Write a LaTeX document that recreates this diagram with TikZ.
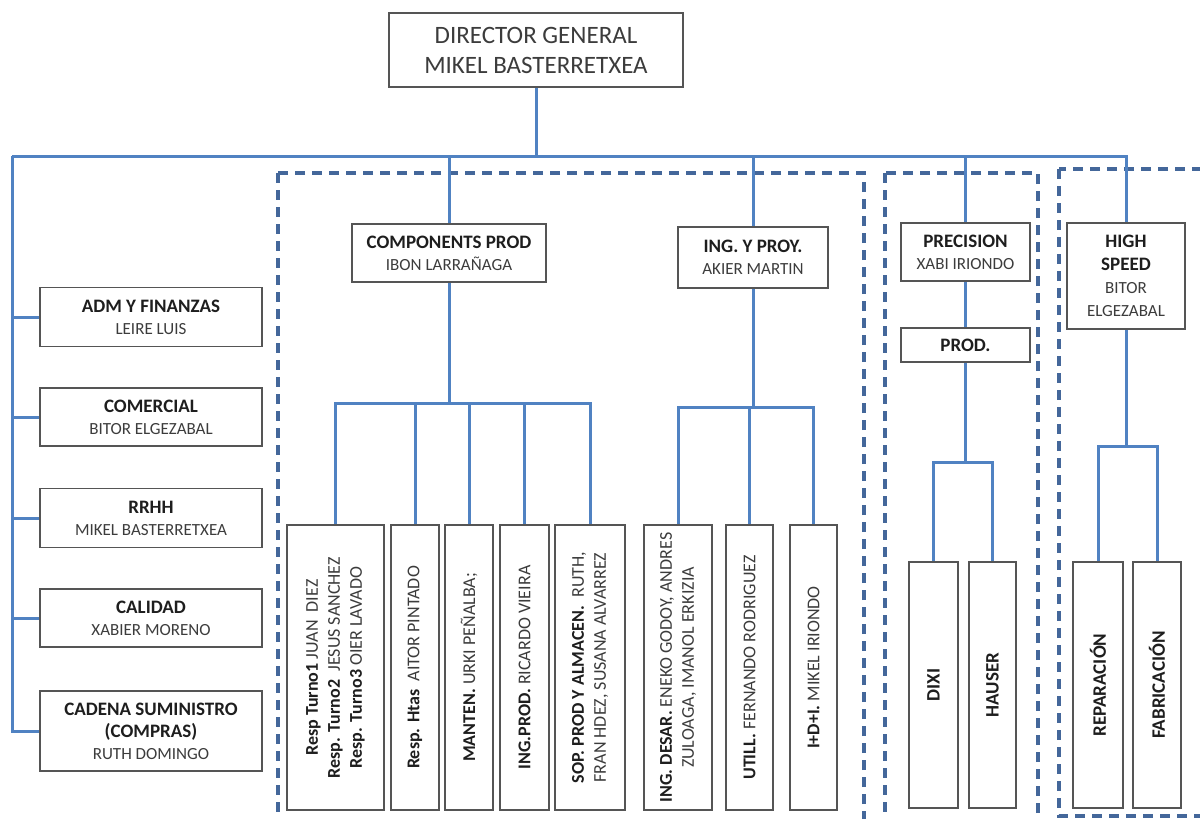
\documentclass[tikz,border=0pt]{standalone}
\usepackage{fontspec}
\setmainfont{Carlito}
\definecolor{connblue}{HTML}{5082C2}
\definecolor{dashblue}{HTML}{44679A}
\definecolor{boxgray}{HTML}{555555}
\definecolor{titlecol}{HTML}{1E1E1E}
\definecolor{namecol}{HTML}{3C3C3C}
\newcommand\rol[1]{{\bfseries #1}}
\newcommand\persona[1]{{\color{namecol}\fontsize{17}{22}\selectfont #1}}
\newcommand\pgray[1]{{\color{namecol}#1}}
\begin{document}
\begin{tikzpicture}[x=1pt,y=-1pt,
  box/.style={draw=boxgray, line width=1.5pt, fill=white, inner sep=1pt, align=center, text=titlecol,
              font=\fontsize{19}{22}\selectfont},
  vbox/.style={box, rotate=90, font=\fontsize{18}{22}\selectfont},
  conn/.style={draw=connblue, line width=3pt},
  grp/.style={draw=dashblue, line width=3.2pt, dash pattern=on 10pt off 7pt}]
\useasboundingbox (0,0) rectangle (1200,819);
\clip (0,0) rectangle (1200,819);

% dashed groups
\draw[grp] (278,173) rectangle (864,850);
\draw[grp] (885,173) rectangle (1038,850);
\draw[grp] (1059,169) rectangle (1240,816);

% top
\node[box, minimum width=294, minimum height=74, text=namecol, font=\fontsize{25}{30}\selectfont]
  (dir) at (536,50) {DIRECTOR GENERAL\\MIKEL BASTERRETXEA};

% left column
\node[box, minimum width=222, minimum height=59] (adm) at (151,317) {\rol{ADM Y FINANZAS}\\\persona{LEIRE LUIS}};
\node[box, minimum width=222, minimum height=58] (com) at (151,417) {\rol{COMERCIAL}\\\persona{BITOR ELGEZABAL}};
\node[box, minimum width=222, minimum height=59] (rrhh) at (151,518) {\rol{RRHH}\\\persona{MIKEL BASTERRETXEA}};
\node[box, minimum width=222, minimum height=58] (cal) at (151,618) {\rol{CALIDAD}\\\persona{XABIER MORENO}};
\node[box, minimum width=222, minimum height=80] (cad) at (151,731) {\rol{CADENA SUMINISTRO}\\\rol{(COMPRAS)}\\\persona{RUTH DOMINGO}};

% second level
\node[box, minimum width=194, minimum height=58] (comp) at (449,253) {\rol{COMPONENTS PROD}\\\persona{IBON LARRAÑAGA}};
\node[box, minimum width=150, minimum height=61] (ing) at (753,257.5) {\rol{ING. Y PROY.}\\\persona{AKIER MARTIN}};
\node[box, minimum width=129, minimum height=58] (prec) at (965.5,252) {\rol{PRECISION}\\\persona{XABI IRIONDO}};
\node[box, minimum width=129, minimum height=34] (prod) at (965.5,345) {\rol{PROD.}};
\node[box, minimum width=118, minimum height=106, font=\fontsize{19}{23}\selectfont] (hs) at (1126,276)
  {\rol{HIGH}\\\rol{SPEED}\\\persona{BITOR}\\\persona{ELGEZABAL}};

% vertical boxes
\node[vbox, minimum width=285, minimum height=97] (t1) at (335.5,667.5)
  {\rol{Resp Turno1} \pgray{JUAN\ \ DIEZ}\\\rol{Resp. Turno2}\ \ \pgray{JESUS SANCHEZ}\\\rol{Resp. Turno3} \pgray{OIER LAVADO}};
\node[vbox, minimum width=285, minimum height=48] (htas) at (415,667.5) {\rol{Resp. Htas}\ \ \pgray{AITOR PINTADO}};
\node[vbox, minimum width=285, minimum height=48] (mant) at (469,667.5) {\rol{MANTEN.} \pgray{URKI PEÑALBA;}};
\node[vbox, minimum width=285, minimum height=49] (ingp) at (524.5,667.5) {\rol{ING.PROD.} \pgray{RICARDO VIEIRA}};
\node[vbox, minimum width=285, minimum height=70] (sop) at (590,667.5)
  {\rol{SOP. PROD Y ALMACEN.}\ \ \pgray{RUTH,}\\\pgray{FRAN HDEZ, SUSANA ALVARREZ}};
\node[vbox, minimum width=285, minimum height=68] (desar) at (678,667.5)
  {\rol{ING. DESAR.} \pgray{ENEKO GODOY, ANDRES}\\\pgray{ZULOAGA, IMANOL ERKIZIA}};
\node[vbox, minimum width=285, minimum height=47] (util) at (749.5,667.5) {\rol{UTILL.} \pgray{FERNANDO RODRIGUEZ}};
\node[vbox, minimum width=285, minimum height=47] (imas) at (813.5,667.5) {\rol{I+D+I.} \pgray{MIKEL IRIONDO}};

\node[vbox, minimum width=246, minimum height=49, font=\fontsize{19}{22}\selectfont] (dixi) at (933.5,685) {\rol{DIXI}};
\node[vbox, minimum width=246, minimum height=47, font=\fontsize{19}{22}\selectfont] (hauser) at (992.5,685) {\rol{HAUSER}};
\node[vbox, minimum width=246, minimum height=50, font=\fontsize{19}{22}\selectfont] (rep) at (1098,685) {\rol{REPARACIÓN}};
\node[vbox, minimum width=246, minimum height=48, font=\fontsize{19}{22}\selectfont] (fab) at (1157,685) {\rol{FABRICACIÓN}};

% connectors
\coordinate (busL) at (12,156);
\coordinate (busR) at (1126,156);
\coordinate (cbar) at (449,403);
\coordinate (ibar) at (753,407);
\coordinate (pbar) at (965.5,462);
\coordinate (hbar) at (1126,446);

\draw[conn] (dir.south) -- (dir.south |- busL);
\draw[conn] (busL) -- (busR) -- (hs.north);
\draw[conn] (busL) |- (cad.west);
\draw[conn] (busL |- adm.west) -- (adm.west);
\draw[conn] (busL |- com.west) -- (com.west);
\draw[conn] (busL |- rrhh.west) -- (rrhh.west);
\draw[conn] (busL |- cal.west) -- (cal.west);
\draw[conn] (comp.north |- busL) -- (comp.north);
\draw[conn] (ing.north |- busL) -- (ing.north);
\draw[conn] (prec.north |- busL) -- (prec.north);

\draw[conn] (comp.south) -- (cbar);
\draw[conn] (t1.east) |- (sop.east |- cbar) -- (sop.east);
\draw[conn] (htas.east) -- (htas.east |- cbar);
\draw[conn] (mant.east) -- (mant.east |- cbar);
\draw[conn] (ingp.east) -- (ingp.east |- cbar);

\draw[conn] (ing.south) -- (ibar);
\draw[conn] (desar.east) |- (imas.east |- ibar) -- (imas.east);
\draw[conn] (util.east) -- (util.east |- ibar);

\draw[conn] (prec.south) -- (prod.north);
\draw[conn] (prod.south) -- (pbar);
\draw[conn] (dixi.east) |- (hauser.east |- pbar) -- (hauser.east);

\draw[conn] (hs.south) -- (hbar);
\draw[conn] (rep.east) |- (fab.east |- hbar) -- (fab.east);
\end{tikzpicture}
\end{document}
